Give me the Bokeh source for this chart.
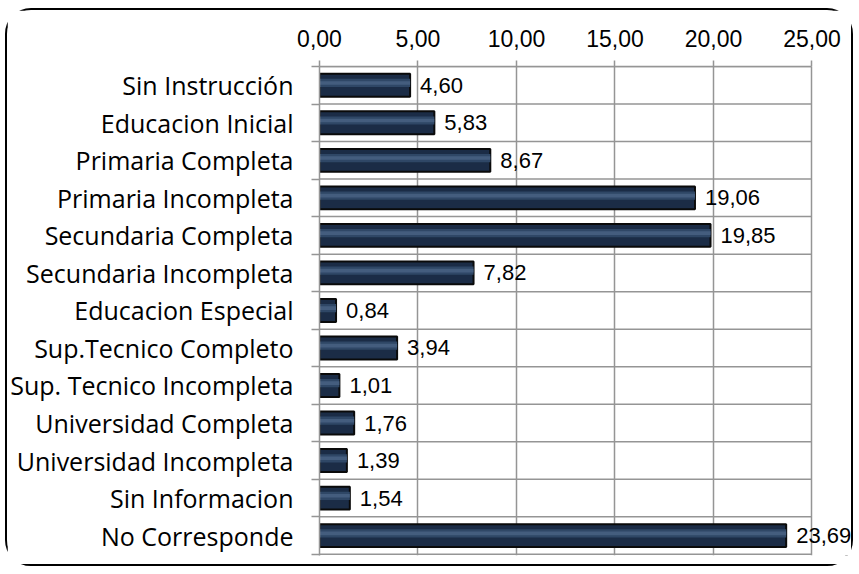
from bokeh.plotting import figure
from bokeh.models import Range1d, FixedTicker, ColumnDataSource, Label
from bokeh.embed import file_html
from bokeh.resources import INLINE

categories = [
    "Sin Instrucción",
    "Educacion Inicial",
    "Primaria Completa",
    "Primaria Incompleta",
    "Secundaria Completa",
    "Secundaria Incompleta",
    "Educacion Especial",
    "Sup.Tecnico Completo",
    "Sup. Tecnico Incompleta",
    "Universidad Completa",
    "Universidad Incompleta",
    "Sin Informacion",
    "No Corresponde",
]
values = [4.60, 5.83, 8.67, 19.06, 19.85, 7.82, 0.84, 3.94, 1.01, 1.76, 1.39, 1.54, 23.69]
x_ticks = [0, 5, 10, 15, 20, 25]
x_tick_labels = ["0,00", "5,00", "10,00", "15,00", "20,00", "25,00"]

n = len(categories)
centers = [i + 0.5 for i in range(n)]
bounds = list(range(n + 1))
value_labels = [f"{v:.2f}".replace(".", ",") for v in values]
bar_h = 0.61

src = ColumnDataSource(dict(
    y=centers, v=values, zero=[0] * n,
    top=[c - bar_h / 2 for c in centers], bot=[c + bar_h / 2 for c in centers],
    t1=[c - bar_h * 0.28 for c in centers], b1=[c + bar_h * 0.08 for c in centers],
    t2=[c - bar_h * 0.18 for c in centers], b2=[c - bar_h * 0.02 for c in centers],
))

GRID = "#959595"

# layout (pixels)
W, H = 848, 558
LEFT, TOP, BOTTOM = 306, 56, 13
AXIS_PX = 498  # pixels spanned by the 0..25 axis
x_end = x_ticks[-1] * (W - LEFT) / AXIS_PX

p = figure(width=W, height=H, x_range=Range1d(x_ticks[0], x_end), y_range=Range1d(n + 0.03, 0),
           x_axis_location="above", output_backend="svg", toolbar_location=None,
           min_border_left=LEFT, min_border_right=0, min_border_top=TOP, min_border_bottom=BOTTOM)
p.margin = (8, 0, 0, 5)
p.styles = {"border": "2px solid black", "border-radius": "26px"}

# horizontal grid lines limited to the axis extent
p.segment(x0=[x_ticks[0]] * len(bounds), x1=[x_ticks[-1]] * len(bounds), y0=bounds, y1=bounds,
          line_color=GRID, line_width=1.5)

# bars with a simple layered shading
p.quad(left="zero", right="v", top="top", bottom="bot", source=src,
       fill_color="#1b2c46", line_color="#0a0a0a", line_width=2)
p.quad(left="zero", right="v", top="t1", bottom="b1", source=src,
       fill_color="#2f4766", line_color=None)
p.quad(left="zero", right="v", top="t2", bottom="b2", source=src,
       fill_color="#4a6384", line_color=None, fill_alpha=0.8)

for v, c, lab in zip(values, centers, value_labels):
    p.add_layout(Label(x=v, y=c, text=lab, x_offset=10,
                       text_align="left", text_baseline="middle",
                       text_font="Liberation Sans", text_font_size="22px",
                       text_color="black"))

# x axis (top)
p.xaxis.ticker = FixedTicker(ticks=x_ticks)
p.xaxis.bounds = (x_ticks[0], x_ticks[-1])
p.xaxis.major_label_overrides = {t: l for t, l in zip(x_ticks, x_tick_labels)}
p.xaxis.major_label_text_font = "Liberation Sans"
p.xaxis.major_label_text_font_size = "23px"
p.xaxis.major_label_text_color = "black"
p.xaxis.axis_line_color = GRID
p.xaxis.axis_line_width = 1.5
p.xaxis.major_tick_line_color = GRID
p.xaxis.major_tick_line_width = 1.5
p.xaxis.major_tick_out = 6
p.xaxis.major_tick_in = 0
p.xaxis.minor_tick_line_color = None
p.xaxis.major_label_standoff = 14

# y axis (categories)
p.yaxis.ticker = FixedTicker(ticks=centers, minor_ticks=bounds)
p.yaxis.major_label_overrides = {c: name for c, name in zip(centers, categories)}
p.yaxis.major_label_text_font = "Open Sans"
p.yaxis.major_label_text_font_size = "25px"
p.yaxis.major_label_text_color = "black"
p.yaxis.axis_line_color = GRID
p.yaxis.axis_line_width = 1.5
p.yaxis.major_tick_line_color = None
p.yaxis.major_tick_out = 0
p.yaxis.major_tick_in = 0
p.yaxis.minor_tick_line_color = GRID
p.yaxis.minor_tick_line_width = 1.5
p.yaxis.minor_tick_out = 8
p.yaxis.minor_tick_in = 0
p.yaxis.major_label_standoff = 18

p.xgrid.ticker = FixedTicker(ticks=x_ticks)
p.ygrid.grid_line_color = None
p.xgrid.grid_line_color = GRID
p.xgrid.grid_line_width = 1.5
p.outline_line_color = None
p.background_fill_color = "white"
p.border_fill_color = "white"

open("out.html", "w").write(file_html(p, INLINE))
